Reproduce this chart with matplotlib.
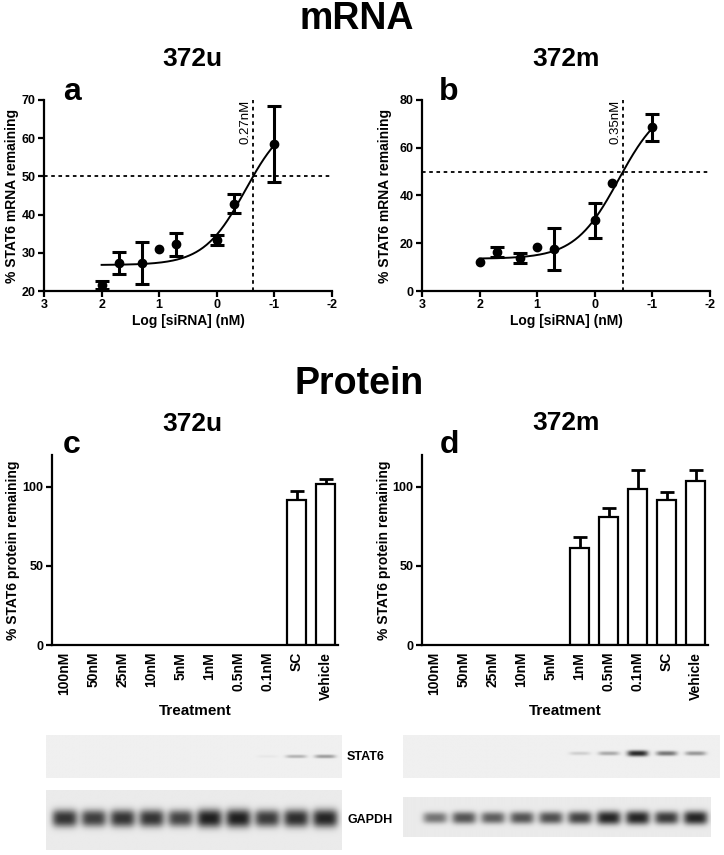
import numpy as np
import matplotlib.pyplot as plt

plt.rcParams['font.family'] = ['Liberation Sans', 'DejaVu Sans']
plt.rcParams['font.weight'] = 'bold'
plt.rcParams['axes.unicode_minus'] = False

# === mRNA dose response (log10 [siRNA] in nM) ===
log_conc = [2, 1.7, 1.3, 1, 0.7, 0, -0.3, -1]
mrna_u = [21.6, 27.4, 27.4, 30.9, 32.2, 33.3, 42.9, 58.4]
mrna_u_err = [1.1, 2.9, 5.5, 0, 3.0, 1.3, 2.6, 9.9]
mrna_m = [12.2, 16.3, 13.8, 18.3, 17.6, 29.6, 45.1, 68.6]
mrna_m_err = [0, 2.0, 2.2, 0, 8.6, 7.2, 0, 5.6]

# fitted curve: bottom, top, log midpoint, hill slope
fit_u = (26.8, 66.0, -0.495, 1.2)
fit_m = (13.5, 80.0, -0.415, 1.14)
ic50_u = (-0.63, '0.27nM')
ic50_m = (-0.49, '0.35nM')

# === Protein (densitometry) ===
treatments = ['100nM', '50nM', '25nM', '10nM', '5nM', '1nM', '0.5nM', '0.1nM', 'SC', 'Vehicle']
prot_u = [0, 0, 0, 0, 0, 0, 0, 0, 91.4, 101.7]
prot_u_err = [0, 0, 0, 0, 0, 0, 0, 0, 6.1, 3.3]
prot_m = [0, 0, 0, 0, 0, 61.1, 81.1, 98.3, 91.4, 103.4]
prot_m_err = [0, 0, 0, 0, 0, 7.4, 5.3, 12.2, 5.2, 7.1]

# western blot band strength per lane (0 = none, 1 = saturated)
stat6_u = [0, 0, 0, 0, 0, 0, 0, 0.04, 0.28, 0.38]
gapdh_u = [0.85, 0.8, 0.85, 0.85, 0.78, 0.95, 0.95, 0.82, 0.88, 0.92]
stat6_m = [0, 0, 0, 0, 0, 0.15, 0.32, 0.9, 0.55, 0.4]
gapdh_m = [0.55, 0.7, 0.65, 0.7, 0.72, 0.78, 0.92, 0.92, 0.82, 0.92]


def logistic(x, p):
    bottom, top, mid, hill = p
    return bottom + (top - bottom) / (1 + 10 ** (hill * (x - mid)))


def style_axes(ax):
    for s in ['top', 'right']:
        ax.spines[s].set_visible(False)
    for s in ['left', 'bottom']:
        ax.spines[s].set_linewidth(1.6)
    ax.tick_params(width=1.6, length=4, labelsize=9, pad=2)
    for lab in ax.get_xticklabels() + ax.get_yticklabels():
        lab.set_fontweight('bold')


def dose_panel(ax, y, err, fit, ic50, ymax, yticks):
    x = np.array(log_conc)
    y = np.array(y)
    err = np.array(err)
    has = err > 0
    ax.errorbar(x[has], y[has], yerr=err[has], fmt='none', ecolor='black',
                elinewidth=2.2, capsize=5, capthick=2.2, zorder=3)
    ax.plot(x, y, 'o', color='black', ms=6, zorder=4)
    xs = np.linspace(2, -1, 200)
    ax.plot(xs, logistic(xs, fit), color='black', lw=1.4, zorder=2)
    ax.axhline(50, color='black', lw=1.3, ls=(0, (2, 2)))
    ax.axvline(ic50[0], color='black', lw=1.3, ls=(0, (2, 2)))
    ax.text(ic50[0] + 0.03, ymax, ic50[1], rotation=90, ha='right', va='top',
            fontsize=9.5, fontweight='normal')
    ax.set_xlim(3, -2)
    ax.set_ylim(yticks[0], ymax)
    ax.set_xticks([3, 2, 1, 0, -1, -2])
    ax.set_yticks(yticks)
    ax.set_xlabel('Log [siRNA] (nM)', fontsize=10, fontweight='bold', labelpad=2)
    ax.set_ylabel('% STAT6 mRNA remaining', fontsize=10, fontweight='bold')
    style_axes(ax)


def bar_panel(ax, vals, errs):
    idx = np.arange(len(treatments))
    vals = np.array(vals)
    errs = np.array(errs)
    has = vals > 0
    ax.bar(idx[has], vals[has], width=0.66, color='white', edgecolor='black', lw=1.6, zorder=2)
    ax.errorbar(idx[has], vals[has], yerr=[np.zeros(has.sum()), errs[has]], fmt='none',
                ecolor='black', elinewidth=2.0, capsize=5, capthick=2.0, zorder=1)
    ax.set_xlim(-0.43, 9.43)
    ax.set_ylim(0, 120)
    ax.set_yticks([0, 50, 100])
    ax.set_xticks(idx)
    ax.set_xticklabels(treatments, rotation=90)
    ax.set_xlabel('Treatment', fontsize=11, fontweight='bold', labelpad=3)
    ax.set_ylabel('% STAT6 protein remaining', fontsize=10, fontweight='bold')
    style_axes(ax)
    ax.tick_params(axis='x', length=0, labelsize=10, pad=5)


def blot(ax, xlim, strength, band_y, band_h, bg, width=0.36):
    nx, ny = 400, 80
    xs = np.linspace(xlim[0], xlim[1], nx)
    ys = np.linspace(0, 1, ny)
    X, Y = np.meshgrid(xs, ys)
    img = np.full(X.shape, bg)
    for i, s in enumerate(strength):
        if s <= 0:
            continue
        h = band_h * (0.6 + 0.6 * s)
        band = s * np.exp(-(np.abs(X - i) / width) ** 4) * np.exp(-(np.abs(Y - band_y) / h) ** 2.5)
        img = img - band * (bg - 0.08)
    ax.imshow(np.clip(img, 0, 1), cmap='gray', vmin=0, vmax=1, aspect='auto',
              extent=(xlim[0], xlim[1], 1, 0), interpolation='bilinear')
    ax.set_xlim(xlim)
    ax.set_ylim(1, 0)
    ax.axis('off')


fig = plt.figure(figsize=(7.24, 8.55), dpi=100)
W, H = 724, 855


def px_axes(x0, y0, x1, y1):
    return fig.add_axes([x0 / W, 1 - y1 / H, (x1 - x0) / W, (y1 - y0) / H])


ax_a = px_axes(44, 100, 332, 291)
ax_b = px_axes(422, 100, 710, 291)
ax_c = px_axes(52, 455, 338, 645)
ax_d = px_axes(422, 455, 708, 645)

dose_panel(ax_a, mrna_u, mrna_u_err, fit_u, ic50_u, 70, [20, 30, 40, 50, 60, 70])
dose_panel(ax_b, mrna_m, mrna_m_err, fit_m, ic50_m, 80, [0, 20, 40, 60, 80])
bar_panel(ax_c, prot_u, prot_u_err)
bar_panel(ax_d, prot_m, prot_m_err)

# y label placement (right edge of rotated label, in pixels)
for ax, x_px, left_px, w_px in [(ax_a, 19, 44, 288), (ax_b, 392, 422, 288),
                                (ax_c, 20, 52, 286), (ax_d, 391, 422, 286)]:
    ax.yaxis.set_label_coords((x_px - left_px) / w_px, 0.5)

# blots
blot(px_axes(46, 735, 342, 778), (-0.64, 9.57), stat6_u, 0.51, 0.05, 0.94)
blot(px_axes(46, 790, 342, 850), (-0.64, 9.57), gapdh_u, 0.48, 0.13, 0.92, width=0.44)
blot(px_axes(403, 735, 720, 778), (-1.1, 9.83), stat6_m, 0.44, 0.06, 0.94)
blot(px_axes(403, 797, 711, 837), (-1.1, 9.52), gapdh_m, 0.52, 0.15, 0.92, width=0.42)

fig.text(347 / W, 1 - 757 / H, 'STAT6', fontsize=9, fontweight='bold', va='center', ha='left')
fig.text(347 / W, 1 - 820 / H, 'GAPDH', fontsize=9, fontweight='bold', va='center', ha='left')

# titles
fig.text(357 / W, 1 - 19 / H, 'mRNA', fontsize=27, fontweight='bold', ha='center', va='center')
fig.text(359 / W, 1 - 384 / H, 'Protein', fontsize=27, fontweight='bold', ha='center', va='center')
for x, y, t in [(192, 59, '372u'), (566, 59, '372m'), (192, 424, '372u'), (566, 423, '372m')]:
    fig.text(x / W, 1 - y / H, t, fontsize=19, fontweight='bold', ha='center', va='center')
for x, y, t in [(72, 100, 'a'), (449, 100, 'b'), (72, 453, 'c'), (449, 453, 'd')]:
    fig.text(x / W, 1 - y / H, t, fontsize=23, fontweight='bold', ha='center', va='baseline')

fig.savefig('out.png', dpi=100)
